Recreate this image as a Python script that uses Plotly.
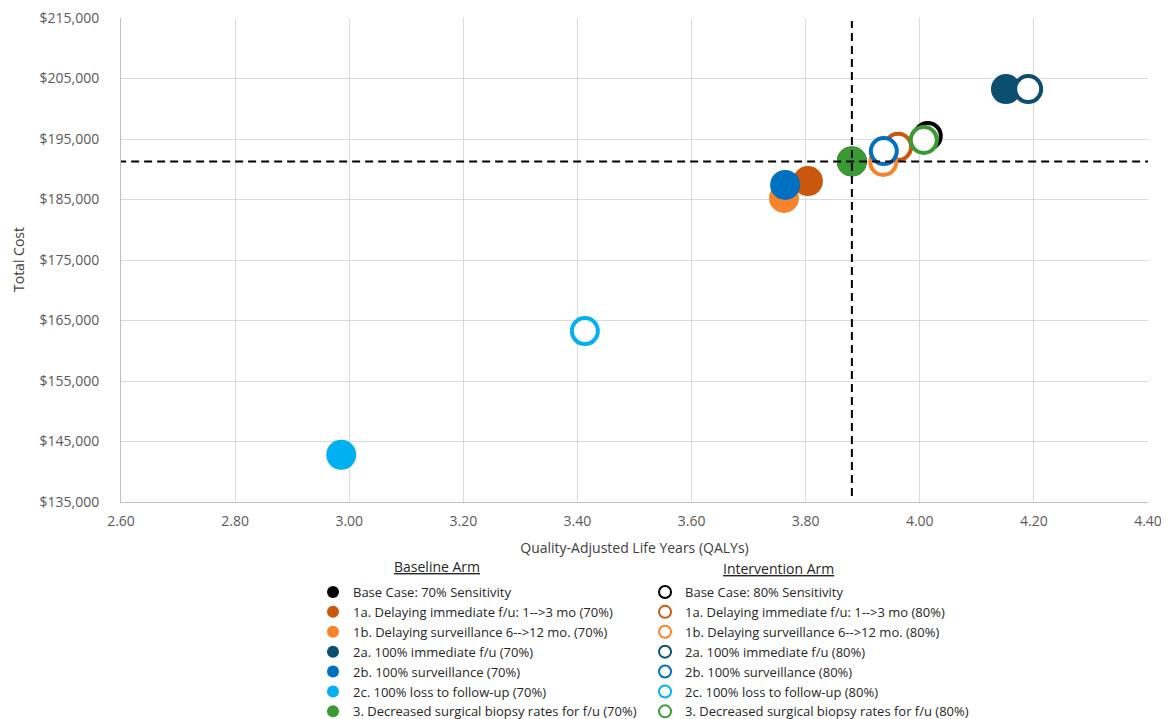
import plotly.graph_objects as go

# ---- data ----
scenarios = [
    "Base Case: {s} Sensitivity",
    "1a. Delaying immediate f/u: 1-->3 mo ({s})",
    "1b. Delaying surveillance 6-->12 mo. ({s})",
    "2a. 100% immediate f/u ({s})",
    "2b. 100% surveillance ({s})",
    "2c. 100% loss to follow-up ({s})",
    "3. Decreased surgical biopsy rates for f/u ({s})",
]
colors = ["#000000", "#C9580E", "#F7832A", "#0B4E6E", "#0070C0", "#00B0F0", "#3A9B35"]

baseline_qaly = [3.881, 3.804, 3.762, 4.151, 3.764, 2.986, 3.881]
baseline_cost = [191300, 188050, 185250, 203250, 187400, 142800, 191300]

interv_qaly = [4.014, 3.962, 3.936, 4.190, 3.937, 3.413, 4.007]
interv_cost = [195500, 193700, 191200, 203250, 193000, 163250, 194850]

ref_qaly = 3.881
ref_cost = 191300

x_ticks = [2.60, 2.80, 3.00, 3.20, 3.40, 3.60, 3.80, 4.00, 4.20, 4.40]
y_ticks = [135000, 145000, 155000, 165000, 175000, 185000, 195000, 205000, 215000]

FONT = "Open Sans"
W, H = 1161, 711  # page body has an 8px margin
ML, MR, MT, MB = 113, 21, 10, 217
PW = W - ML - MR
PH = H - MT - MB

fig = go.Figure()

for i, name in enumerate(scenarios):
    fig.add_trace(go.Scatter(
        x=[baseline_qaly[i]], y=[baseline_cost[i]], mode="markers",
        name=name.format(s="70%"), legend="legend",
        marker=dict(symbol="circle", size=30, color=colors[i], line=dict(width=0)),
    ))
for i, name in enumerate(scenarios):
    fig.add_trace(go.Scatter(
        x=[interv_qaly[i]], y=[interv_cost[i]], mode="markers",
        name=name.format(s="80%"), legend="legend2",
        marker=dict(symbol="circle", size=26, color="white",
                    line=dict(width=4, color=colors[i])),
    ))

# reference dashed lines
fig.add_shape(type="line", xref="x", yref="y", x0=2.595, x1=4.40, y0=ref_cost, y1=ref_cost,
              line=dict(color="black", width=2, dash="8px,5px"), layer="above")
fig.add_shape(type="line", xref="x", yref="y", x0=ref_qaly, x1=ref_qaly, y0=136000, y1=214500,
              line=dict(color="black", width=2, dash="8px,5px"), layer="above")

# y axis title
fig.add_annotation(text="Total Cost", xref="paper", yref="paper",
                   x=(10 - ML) / PW, y=0.5, textangle=-90,
                   showarrow=False, xanchor="center", yanchor="middle",
                   font=dict(family=FONT, size=14, color="#404040"))

# legend column headers
fig.add_annotation(text="<u>Baseline Arm</u>", xref="paper", yref="paper",
                   x=(429 - ML) / PW, y=1 - (558 - MT) / PH,
                   showarrow=False, xanchor="center", yanchor="middle",
                   font=dict(family=FONT, size=14, color="#262626"))
fig.add_annotation(text="<u>Intervention Arm</u>", xref="paper", yref="paper",
                   x=(770 - ML) / PW, y=1 - (560 - MT) / PH,
                   showarrow=False, xanchor="center", yanchor="middle",
                   font=dict(family=FONT, size=14, color="#262626"))

leg_common = dict(
    xref="container", yref="container", xanchor="left", yanchor="top", orientation="v",
    font=dict(family=FONT, size=13, color="#262626"),
    itemsizing="constant", itemwidth=30, bgcolor="rgba(0,0,0,0)", tracegroupgap=0,
)

fig.update_layout(
    width=W, height=H,
    margin=dict(l=ML, r=MR, t=MT, b=MB, autoexpand=False),
    paper_bgcolor="white", plot_bgcolor="white",
    font=dict(family=FONT, size=14, color="#595959"),
    xaxis=dict(
        range=[2.60, 4.40], tickvals=x_ticks, ticktext=[f"{v:.2f}" for v in x_ticks],
        showgrid=True, gridcolor="#D9D9D9", gridwidth=1,
        showline=True, linecolor="#BFBFBF", linewidth=1, zeroline=False,
        ticks="", ticklen=0, ticklabelstandoff=6, ticklabeloverflow="allow",
        tickfont=dict(size=14, color="#595959"),
        title=dict(text="Quality-Adjusted Life Years (QALYs)", font=dict(size=14, color="#404040"), standoff=14),
    ),
    yaxis=dict(
        range=[135000, 215000], tickvals=y_ticks, ticktext=[f"${v:,.0f}" for v in y_ticks],
        showgrid=True, gridcolor="#D9D9D9", gridwidth=1,
        showline=True, linecolor="#BFBFBF", linewidth=1, zeroline=False,
        ticks="", ticklabelstandoff=18, ticklabeloverflow="allow",
        tickfont=dict(size=14, color="#595959"),
    ),
    showlegend=True,
    legend=dict(x=0.2627, y=0.1997, **leg_common),
    legend2=dict(x=0.5487, y=0.1997, **leg_common),
)

fig.write_html("out.html")
